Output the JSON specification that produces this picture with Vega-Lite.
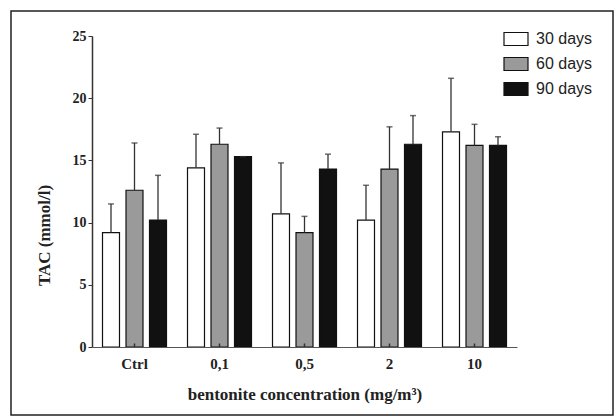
{
  "$schema": "https://vega.github.io/schema/vega-lite/v6.json",
  "width": 602,
  "height": 404,
  "autosize": {"type": "none"},
  "padding": {"left": 11, "top": 11, "right": 3, "bottom": 2},
  "background": "#ffffff",
  "config": {
    "view": {"stroke": "#222222", "strokeWidth": 1.5},
    "axis": {"grid": false}
  },
  "data": {
    "values": [
      {"group": "Ctrl", "series": "30 days", "value": 9.2, "upper": 11.5},
      {"group": "Ctrl", "series": "60 days", "value": 12.6, "upper": 16.4},
      {"group": "Ctrl", "series": "90 days", "value": 10.2, "upper": 13.8},
      {"group": "0,1", "series": "30 days", "value": 14.4, "upper": 17.1},
      {"group": "0,1", "series": "60 days", "value": 16.3, "upper": 17.6},
      {"group": "0,1", "series": "90 days", "value": 15.3, "upper": 15.3},
      {"group": "0,5", "series": "30 days", "value": 10.7, "upper": 14.8},
      {"group": "0,5", "series": "60 days", "value": 9.2, "upper": 10.5},
      {"group": "0,5", "series": "90 days", "value": 14.3, "upper": 15.5},
      {"group": "2", "series": "30 days", "value": 10.2, "upper": 13.0},
      {"group": "2", "series": "60 days", "value": 14.3, "upper": 17.7},
      {"group": "2", "series": "90 days", "value": 16.3, "upper": 18.6},
      {"group": "10", "series": "30 days", "value": 17.3, "upper": 21.6},
      {"group": "10", "series": "60 days", "value": 16.2, "upper": 17.9},
      {"group": "10", "series": "90 days", "value": 16.2, "upper": 16.9}
    ]
  },
  "encoding": {
    "x": {
      "field": "group",
      "type": "nominal",
      "sort": ["Ctrl", "0,1", "0,5", "2", "10"],
      "scale": {"range": [81, 506], "paddingInner": 0, "paddingOuter": 0},
      "axis": {
        "title": "bentonite concentration (mg/m³)",
        "offset": -68,
        "labelAngle": 0,
        "labelFont": "Liberation Serif",
        "labelFontWeight": "bold",
        "labelFontSize": 15,
        "labelColor": "#222222",
        "labelPadding": 13,
        "tickSize": -4,
        "tickColor": "#333333",
        "tickWidth": 1.5,
        "domainColor": "#555555",
        "domainWidth": 1.2,
        "titleFont": "Liberation Serif",
        "titleFontWeight": "bold",
        "titleFontSize": 17,
        "titleColor": "#222222",
        "titlePadding": 15,
        "zindex": 1
      }
    },
    "xOffset": {
      "field": "series",
      "type": "nominal",
      "scale": {"paddingInner": 0.277, "paddingOuter": 0.447}
    }
  },
  "layer": [
    {
      "mark": {"type": "bar", "stroke": "#111111", "strokeWidth": 1.2},
      "encoding": {
        "y": {
          "field": "value",
          "type": "quantitative",
          "scale": {"domain": [0, 25], "range": [336, 25], "nice": false},
          "axis": {
            "title": "TAC (mmol/l)",
            "offset": -81,
            "values": [0, 5, 10, 15, 20, 25],
            "tickSize": 4,
            "tickColor": "#333333",
            "domainColor": "#333333",
            "domainWidth": 1.5,
            "labelFont": "Liberation Serif",
            "labelFontWeight": "bold",
            "labelFontSize": 14,
            "labelColor": "#222222",
            "labelPadding": 2,
            "titleFont": "Liberation Serif",
            "titleFontWeight": "bold",
            "titleFontSize": 17,
            "titleColor": "#222222",
            "titleX": -48,
            "titleY": 224,
            "titleBaseline": "middle",
            "titleAngle": -90
          }
        },
        "fill": {
          "field": "series",
          "type": "nominal",
          "scale": {"range": ["#ffffff", "#9a9a9a", "#111111"]},
          "legend": {
            "title": null,
            "orient": "none",
            "legendX": 492,
            "legendY": 15,
            "symbolType": "M-1,-0.54H1V0.54H-1Z",
            "symbolSize": 576,
            "symbolStrokeColor": "#111111",
            "symbolStrokeWidth": 1.2,
            "labelFont": "Liberation Sans",
            "labelFontSize": 16,
            "labelColor": "#222222",
            "labelOffset": 7,
            "rowPadding": 3
          }
        }
      }
    },
    {
      "mark": {"type": "rule", "color": "#333333", "strokeWidth": 1.3},
      "encoding": {
        "y": {"field": "value", "type": "quantitative"},
        "y2": {"field": "upper"}
      }
    },
    {
      "mark": {"type": "tick", "color": "#333333", "thickness": 1.5, "size": 6},
      "encoding": {
        "y": {"field": "upper", "type": "quantitative"}
      }
    }
  ]
}
